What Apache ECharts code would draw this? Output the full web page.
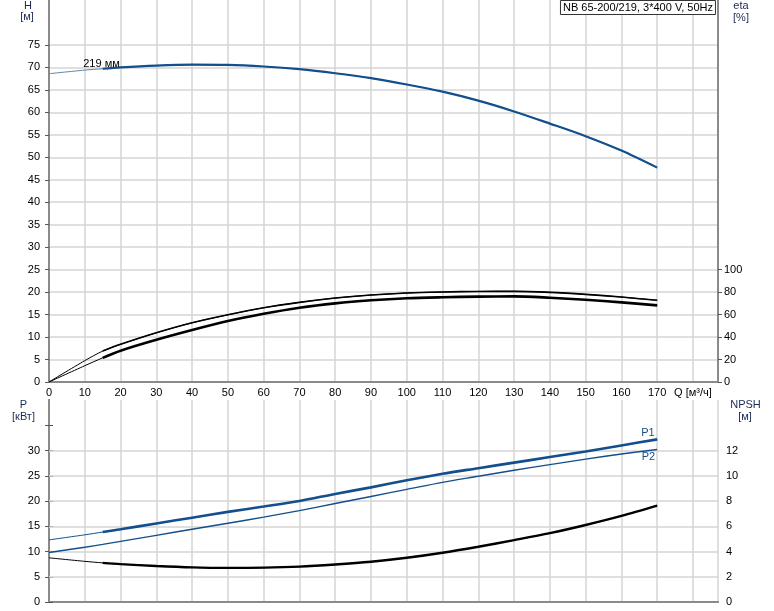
<!DOCTYPE html>
<html><head><meta charset="utf-8">
<script src="https://cdn.jsdelivr.net/npm/echarts@6/dist/echarts.min.js"></script>
<style>html,body{margin:0;padding:0;background:#fff}#c{width:774px;height:611px}</style>
</head><body><div id="c"></div>
<script>
// Flow rate Q [m3/h]
const Q      = [0, 10, 15, 20, 30, 40, 50, 60, 70, 80, 90, 100, 110, 120, 130, 140, 150, 160, 170];
// Head H [m], impeller 219 mm
const H      = [68.6, 69.4, 69.7, 70.0, 70.4, 70.6, 70.55, 70.2, 69.6, 68.7, 67.6, 66.2, 64.6, 62.6, 60.2, 57.5, 54.7, 51.5, 47.7];
// Efficiencies [%]
const etaA   = [0, 19, 27.5, 33.5, 43.8, 52.7, 59.8, 66.1, 70.9, 74.7, 77.4, 79.2, 80.1, 80.6, 80.7, 79.8, 78.0, 75.6, 72.7];
const etaB   = [0, 14.5, 21.5, 27.8, 37.5, 46.2, 54.2, 60.7, 66.1, 70.0, 72.7, 74.5, 75.4, 76.0, 76.2, 75.0, 73.2, 70.9, 68.2];
// Power [kW]
const P1     = [12.3, 13.3, 13.85, 14.4, 15.55, 16.7, 17.85, 18.9, 20.0, 21.4, 22.7, 24.1, 25.4, 26.5, 27.6, 28.7, 29.8, 31.0, 32.2];
const P2     = [9.8, 10.85, 11.4, 12.0, 13.2, 14.4, 15.6, 16.8, 18.1, 19.5, 20.9, 22.3, 23.7, 24.9, 26.1, 27.2, 28.3, 29.3, 30.2];
// NPSH [m]
const NPSH   = [3.5, 3.22, 3.1, 3.0, 2.85, 2.74, 2.7, 2.72, 2.8, 2.97, 3.19, 3.5, 3.9, 4.38, 4.9, 5.45, 6.1, 6.82, 7.64];

// tick labels
const hTicks    = [0, 5, 10, 15, 20, 25, 30, 35, 40, 45, 50, 55, 60, 65, 70, 75];
const etaTicks  = [0, 20, 40, 60, 80, 100];
const pTicks    = [0, 5, 10, 15, 20, 25, 30, 35];
const pLabels   = [0, 5, 10, 15, 20, 25, 30];
const pGrid     = [5, 10, 15, 20, 25, 30];
const nTicks    = [0, 2, 4, 6, 8, 10, 12, 14];
const nLabels   = [0, 2, 4, 6, 8, 10, 12];
const qAxisName = 'Q [м³/ч]';
const title     = 'NB 65-200/219, 3*400 V, 50Hz';

const FONT = 'Arial, "Liberation Sans", sans-serif';
const AX = '#8a8a8a', GRID = '#d4d4d4', BLUE = '#124f8c';
const split = Q.indexOf(15);
const pairs = (arr, a) => Q.slice(a).map((q, i) => [q, arr[a + i]]);

function line(name, arr, xi, yi, color, w, part) {
  const d = part === 'thick' ? pairs(arr, split) : pairs(arr, 0);
  return { name, type: 'line', xAxisIndex: xi, yAxisIndex: yi, data: d, showSymbol: false, smooth: 0.3,
           silent: true, lineStyle: { color, width: w }, itemStyle: { color }, z: part === 'thick' ? 4 : 3 };
}

const lbl = { color: '#000', fontSize: 11, fontFamily: FONT };
const axLine = { show: true, lineStyle: { color: AX, width: 2 } };

const option = {
  animation: false,
  backgroundColor: '#fff',
  title: { text: title, right: 58, top: 0, padding: [1, 3], borderColor: '#333', borderWidth: 1, backgroundColor: '#fff',
           textStyle: { fontSize: 11, fontWeight: 'normal', color: '#000', fontFamily: FONT, lineHeight: 13 } },
  grid: [
    { left: 49, right: 56, top: 0, height: 382 },
    { left: 49, right: 56, top: 400, height: 202 }
  ],
  xAxis: [
    { gridIndex: 0, type: 'value', min: 0, max: 187, interval: 10, axisLine: axLine, axisTick: { show: false },
      axisLabel: Object.assign({ margin: 5, showMaxLabel: false, formatter: v => v === 180 ? qAxisName : (v % 10 === 0 ? String(v) : '') }, lbl),
      splitLine: { show: true, lineStyle: { color: GRID, width: 1.5 } } },
    { gridIndex: 1, type: 'value', min: 0, max: 187, interval: 10, axisLine: axLine, axisTick: { show: false },
      axisLabel: { show: false }, splitLine: { show: true, lineStyle: { color: GRID, width: 1.5 } } },
    { gridIndex: 1, type: 'value', position: 'top', min: 0, max: 187, interval: 10, axisLine: axLine, axisTick: { show: false },
      axisLabel: { show: false }, splitLine: { show: false } }
  ],
  yAxis: [
    { gridIndex: 0, type: 'value', min: 0, max: 85, interval: 5, position: 'left', axisLine: axLine,
      axisTick: { show: true, length: 4, customValues: hTicks, lineStyle: { color: '#555' } },
      axisLabel: Object.assign({ margin: 9, customValues: hTicks }, lbl),
      splitLine: { show: true, lineStyle: { color: GRID, width: 1.5 } } },
    { gridIndex: 0, type: 'value', min: 0, max: 340, interval: 20, position: 'right', axisLine: axLine,
      axisTick: { show: true, length: 4, customValues: etaTicks, lineStyle: { color: '#555' } },
      axisLabel: Object.assign({ margin: 6, customValues: etaTicks }, lbl), splitLine: { show: false } },
    { gridIndex: 1, type: 'value', min: 0, max: 40, interval: 5, position: 'left', axisLine: axLine,
      axisTick: { show: true, length: 4, customValues: pTicks, lineStyle: { color: '#555' } },
      axisLabel: Object.assign({ margin: 9, customValues: pLabels }, lbl), splitLine: { show: false } },
    { gridIndex: 1, type: 'value', min: 0, max: 16, interval: 2, position: 'right', axisLine: axLine,
      axisTick: { show: true, length: 4, customValues: nTicks, lineStyle: { color: '#555' } },
      axisLabel: Object.assign({ margin: 8, customValues: nLabels }, lbl), splitLine: { show: false } }
  ],
  series: [
    Object.assign(line('P2', P2, 1, 2, BLUE, 1.4, 'all'), {
      markLine: { silent: true, symbol: ['none', 'none'], label: { show: false }, z: 1,
                  lineStyle: { color: GRID, width: 1.5, type: 'solid' }, emphasis: { disabled: true },
                  data: pGrid.map(v => ({ yAxis: v })) } }),
    line('H thin', H, 0, 0, '#5f83b0', 1, 'thin'),
    line('H', H, 0, 0, BLUE, 2.2, 'thick'),
    line('etaA thin', etaA, 0, 1, '#000', 1, 'thin'),
    line('etaA', etaA, 0, 1, '#000', 1.6, 'thick'),
    line('etaB thin', etaB, 0, 1, '#000', 1, 'thin'),
    line('etaB', etaB, 0, 1, '#000', 2.6, 'thick'),
    line('P1 thin', P1, 1, 2, BLUE, 1, 'thin'),
    line('P1', P1, 1, 2, BLUE, 2.6, 'thick'),
    line('NPSH thin', NPSH, 1, 3, '#000', 1, 'thin'),
    line('NPSH', NPSH, 1, 3, '#000', 2.4, 'thick')
  ],
  graphic: [
    { type: 'text', x: 28, y: 6, style: { text: 'H', font: '11px ' + FONT, fill: '#1a2a55', align: 'center', verticalAlign: 'middle' } },
    { type: 'text', x: 27, y: 17, style: { text: '[м]', font: '11px ' + FONT, fill: '#1a2a55', align: 'center', verticalAlign: 'middle' } },
    { type: 'text', x: 741, y: 6, style: { text: 'eta', font: '11px ' + FONT, fill: '#1a2a55', align: 'center', verticalAlign: 'middle' } },
    { type: 'text', x: 741, y: 17.5, style: { text: '[%]', font: '11px ' + FONT, fill: '#1a2a55', align: 'center', verticalAlign: 'middle' } },
    { type: 'text', x: 23.5, y: 405, style: { text: 'P', font: '11px ' + FONT, fill: '#1a2a55', align: 'center', verticalAlign: 'middle' } },
    { type: 'text', x: 23.5, y: 417, style: { text: '[кВт]', font: '11px ' + FONT, fill: '#1a2a55', align: 'center', verticalAlign: 'middle' } },
    { type: 'text', x: 745.5, y: 405, style: { text: 'NPSH', font: '11px ' + FONT, fill: '#1a2a55', align: 'center', verticalAlign: 'middle' } },
    { type: 'text', x: 745, y: 417, style: { text: '[м]', font: '11px ' + FONT, fill: '#1a2a55', align: 'center', verticalAlign: 'middle' } },
    { type: 'text', x: 101.5, y: 64, z: 10, style: { text: '219 мм', font: '11px ' + FONT, fill: '#000', align: 'center', verticalAlign: 'middle' } },
    { type: 'text', x: 648, y: 432.5, z: 10, style: { text: 'P1', font: '11px ' + FONT, fill: BLUE, align: 'center', verticalAlign: 'middle' } },
    { type: 'text', x: 648.5, y: 456.5, z: 10, style: { text: 'P2', font: '11px ' + FONT, fill: BLUE, align: 'center', verticalAlign: 'middle' } }
  ]
};

const chart = echarts.init(document.getElementById('c'), null, { renderer: 'canvas' });
chart.setOption(option);
</script>
</body></html>
